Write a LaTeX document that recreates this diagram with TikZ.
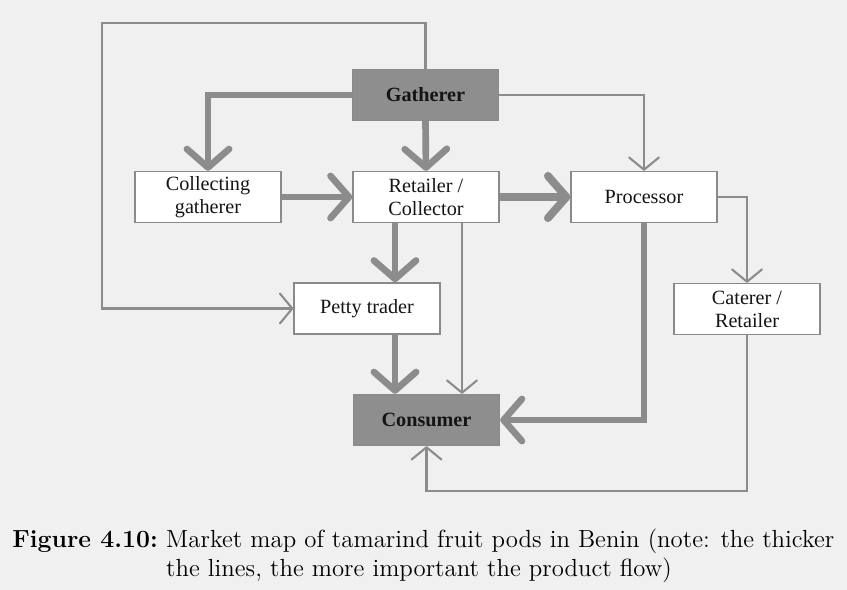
\documentclass[tikz,border=0pt]{standalone}
\usepackage{fontspec}
\newfontfamily\boxfont{Liberation Serif}
\usetikzlibrary{arrows.meta}
\definecolor{paper}{HTML}{F0F0F0}
\definecolor{flow}{HTML}{8C8C8C}
\definecolor{edge}{HTML}{8A8A8A}
\definecolor{actor}{HTML}{8E8E8E}
\begin{document}
\begin{tikzpicture}[x=0.02cm,y=-0.02cm,
  box/.style={draw=edge, line width=0.8pt, fill=white,
    minimum width=2.92cm, minimum height=1.02cm, inner sep=0pt,
    align=center, text=black!92,
    font=\boxfont\fontsize{11.5}{13}\selectfont},
  keybox/.style={box, fill=actor,
    font=\boxfont\bfseries\fontsize{11.5}{13}\selectfont},
  minor/.style={draw=flow, line width=1.2pt,
    -{Straight Barb[length=7pt,width=17pt,round]}},
  major/.style={draw=flow, line width=3.8pt,
    -{Straight Barb[length=10.5pt,width=24pt,round]}},
  heavy/.style={major, line width=4.5pt}]

% page
\fill[paper] (0,0) rectangle (847,590);
\useasboundingbox (0,0) rectangle (847,590);

% actors
\node[keybox] (gath)  at (425.5,95)  {Gatherer};
\node[box]    (coll)  at (208,197)   {Collecting\\gatherer};
\node[box]    (ret)   at (426,197)   {Retailer /\\Collector};
\node[box]    (proc)  at (644,197)   {Processor};
\node[box]    (cater) at (747,309)   {Caterer /\\Retailer};
\node[box]    (petty) at (367,308.5) {Petty trader};
\node[keybox] (cons)  at (426.5,420) {Consumer};

% turning points of the routed flows
\coordinate (topturn) at (102,23);
\coordinate (mainx)   at (395,0);
\coordinate (sidex)   at (462,0);
\coordinate (lowturn) at (747,491);

% product flows
\draw[minor] (gath.north) |- (topturn) |- (petty.west);
\draw[major] (gath.west) -| (coll.north);
\draw[major] (gath.south) -- (ret.north);
\draw[minor] (gath.east) -| (proc.north);
\draw[major] (coll.east) -- (ret.west);
\draw[heavy] (ret.east) -- (proc.west);
\draw[major] (ret.south -| mainx) -- (petty.north -| mainx);
\draw[minor] (ret.south -| sidex) -- (cons.north -| sidex);
\draw[major] (petty.south -| mainx) -- (cons.north -| mainx);
\draw[major] (proc.south) |- (cons.east);
\draw[minor] (proc.east) -| (cater.north);
\draw[minor] (cater.south) -- (lowturn) -| (cons.south);

% caption
\node[anchor=base west, inner sep=0pt] (caption) at (12,547)
  {\fontsize{14.1}{17}\selectfont
   \begin{tabular}[t]{@{}l@{\hspace{4.8pt}}l@{}}
   \textbf{Figure 4.10:} & Market map of tamarind fruit pods in Benin (note: the thicker\\
   & the lines, the more important the product flow)
   \end{tabular}};
\end{tikzpicture}
\end{document}
